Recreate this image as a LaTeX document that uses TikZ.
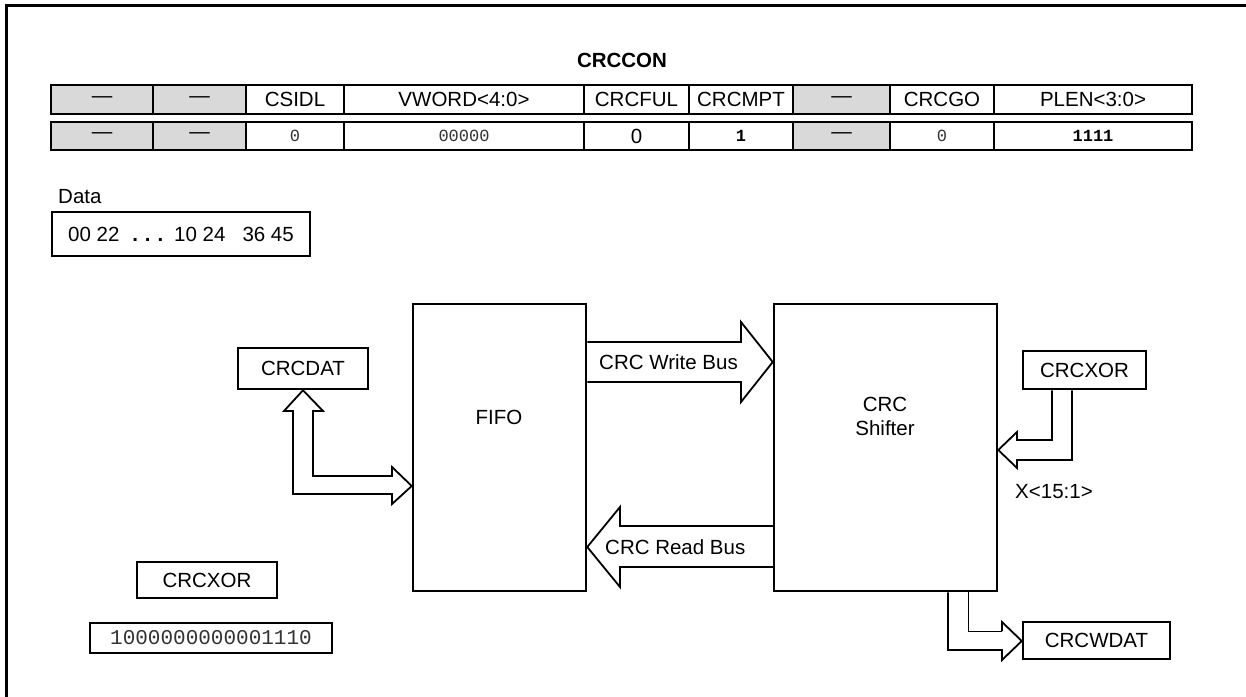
\documentclass[tikz,border=0pt]{standalone}
\usepackage{fontspec}
\setmainfont{Liberation Sans}
\newfontfamily\monof{Liberation Mono}
\usetikzlibrary{calc}
\definecolor{cellgray}{RGB}{217,217,217}
\newcommand\fs{\fontsize{20.5}{24}\selectfont}
\newcommand\ms{\fontsize{17}{20}\selectfont\monof}
\begin{document}
\begin{tikzpicture}[x=1pt,y=-1pt,
  box/.style={draw, line width=2.5pt, inner sep=0pt, font=\fs},
  cell/.style={draw, line width=2.7pt, inner sep=0pt, font=\fs, minimum height=29pt},
  gcell/.style={cell, fill=cellgray},
  lbl/.style={inner sep=0pt, font=\fs},
  bus/.style={draw, line width=1.8pt, line join=miter},
  thinbus/.style={draw, line width=1pt},
  frame/.style={draw, line width=3pt}]
\useasboundingbox (0,0) rectangle (1246,696);
\fill[white] (0,0) rectangle (1246,696);
% outer frame
\draw[frame] (6.5,700) -- (6.5,5.3) -- (1250,5.3);

% register title
\node[lbl, font=\fs\bfseries] (title) at (622,60) {CRCCON};

% row 1
\node[gcell, minimum width=102pt] (h1) at (102,99.5) {---};
\node[gcell, minimum width=93pt]  (h2) at (199.5,99.5) {---};
\node[cell,  minimum width=98pt]  (h3) at (295,99.5) {CSIDL};
\node[cell,  minimum width=240pt] (h4) at (464,99.5) {VWORD<4:0>};
\node[cell,  minimum width=105pt] (h5) at (636.5,99.5) {CRCFUL};
\node[cell,  minimum width=104pt] (h6) at (741,99.5) {CRCMPT};
\node[gcell, minimum width=97pt]  (h7) at (841.5,99.5) {---};
\node[cell,  minimum width=104pt] (h8) at (942,99.5) {CRCGO};
\node[cell,  minimum width=198pt] (h9) at (1093,99.5) {PLEN<3:0>};

% row 2
\node[gcell, minimum width=102pt, minimum height=28pt] (v1) at (102,136) {---};
\node[gcell, minimum width=93pt,  minimum height=28pt] (v2) at (199.5,136) {---};
\node[cell,  minimum width=98pt,  minimum height=28pt, font=\ms, text=black!80] (v3) at (295,136) {0};
\node[cell,  minimum width=240pt, minimum height=28pt, font=\ms, text=black!80] (v4) at (464,136) {00000};
\node[cell,  minimum width=105pt, minimum height=28pt] (v5) at (636.5,136) {0};
\node[cell,  minimum width=104pt, minimum height=28pt, font=\ms\bfseries] (v6) at (741,136) {1};
\node[gcell, minimum width=97pt,  minimum height=28pt] (v7) at (841.5,136) {---};
\node[cell,  minimum width=104pt, minimum height=28pt, font=\ms, text=black!80] (v8) at (942,136) {0};
\node[cell,  minimum width=198pt, minimum height=28pt, font=\ms\bfseries] (v9) at (1093,136) {1111};

% data
\node[lbl, anchor=west] (datal) at (58,197) {Data};
\node[box, minimum width=258pt, minimum height=44pt] (data) at (181,234)
  {00 22\hspace{13pt}\textbf{.\,\,.\,\,.}\hspace{11pt}10 24\hspace{17pt}36 45};

% main blocks
\node[box, minimum width=130pt, minimum height=41pt] (crcdat) at (303,368.5) {CRCDAT};
\node[box, minimum width=173pt, minimum height=287pt] (fifo) at (499.5,447.5) {};
\node[lbl] (fifot) at (499,417) {FIFO};
\node[box, minimum width=223pt, minimum height=287pt] (shift) at (885.5,447.5) {};
\node[lbl, align=center] (shiftt) at (885,416) {CRC\\Shifter};
\node[box, minimum width=123pt, minimum height=38pt] (xorr) at (1084.5,370) {CRCXOR};
\node[lbl, anchor=west] (xlbl) at (1015,492) {X<15:1>};
\node[box, minimum width=147pt, minimum height=37pt] (wdat) at (1096.5,640.5) {CRCWDAT};
\node[box, minimum width=140pt, minimum height=36pt] (xorl) at (207,580) {CRCXOR};
\node[box, minimum width=242pt, minimum height=30pt, font=\fontsize{21}{24}\selectfont\monof, text=black!80] (xorv) at (211,638) {1000000000001110};

% CRC write bus
\draw[bus] (fifo.east |- 0,342) -- (741,342) -- (741,322) -- (shift.west |- 0,362)
  -- (741,402) -- (741,382) -- (fifo.east |- 0,382);
\node[lbl, anchor=west] (wbus) at (599,362) {CRC Write Bus};

% CRC read bus
\draw[bus] (shift.west |- 0,526) -- (620,526) -- (620,507) -- (fifo.east |- 0,547)
  -- (620,587) -- (620,567) -- (shift.west |- 0,567);
\node[lbl, anchor=west] (rbus) at (605,547) {CRC Read Bus};

% CRCDAT <-> FIFO
\draw[bus] (crcdat.south) -- (323,411) -- (313,411) -- (313,476) -- (392,476) -- (392,467)
  -- (fifo.west |- 0,486) -- (392,504) -- (392,494) -- (293,494) -- (293,411) -- (284,411) -- cycle;

% CRCXOR -> shifter
\draw[bus] (1052,0 |- xorr.south) -- (1052,440) -- (1017,440) -- (1017,432)
  -- (shift.east |- 0,450) -- (1017,468) -- (1017,460) -- (1072,460) -- (1072,0 |- xorr.south);

% shifter -> CRCWDAT
\draw[bus] (948,0 |- shift.south) -- (948,650) -- (1002,650) -- (1002,660)
  -- (wdat.west |- 0,641) -- (1002,622) -- (1002,631);
\draw[thinbus] (1002,631) -- (968,631) -- (968,0 |- shift.south);
\end{tikzpicture}
\end{document}
